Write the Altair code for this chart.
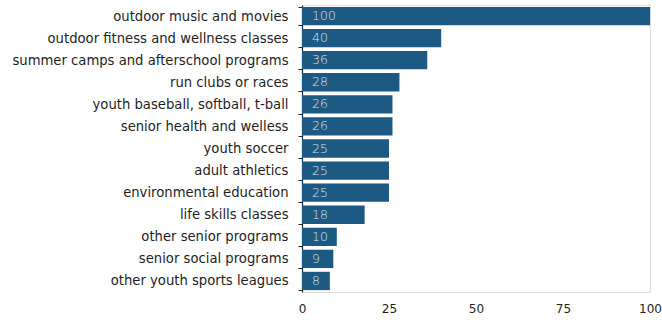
import altair as alt
import pandas as pd

categories = [
    "outdoor music and movies",
    "outdoor fitness and wellness classes",
    "summer camps and afterschool programs",
    "run clubs or races",
    "youth baseball, softball, t-ball",
    "senior health and welless",
    "youth soccer",
    "adult athletics",
    "environmental education",
    "life skills classes",
    "other senior programs",
    "senior social programs",
    "other youth sports leagues",
]
values = [100, 40, 36, 28, 26, 26, 25, 25, 25, 18, 10, 9, 8]
x_ticks = [0, 25, 50, 75, 100]

df = pd.DataFrame({"category": categories, "value": values})

FONT = "DejaVu Sans"
BAR = "#1c5a84"

y_enc = alt.Y(
    "category:N",
    sort=categories,
    title=None,
    scale=alt.Scale(paddingInner=0.17, paddingOuter=0.085),
    axis=alt.Axis(
        labelFont=FONT,
        labelFontSize=13.2,
        labelColor="#1e1e1e",
        labelPadding=10,
        labelLimit=320,
        tickBand="extent",
        tickSize=4,
        tickColor="#222222",
        domainColor="#222222",
        domainWidth=1.2,
    ),
)
x_enc = alt.X(
    "value:Q",
    title=None,
    scale=alt.Scale(domain=[0, 100], nice=False),
    axis=alt.Axis(
        values=x_ticks,
        grid=False,
        domain=False,
        ticks=False,
        labelFont=FONT,
        labelFontSize=12,
        labelColor="#1e1e1e",
        labelPadding=11,
        labelFlush=False,
    ),
)

bars = alt.Chart(df).mark_bar(color=BAR).encode(x=x_enc, y=y_enc)
labels = alt.Chart(df).mark_text(
    align="left", baseline="middle", dx=10, font=FONT, fontSize=12.5,
    fontWeight=300, color="#d6e2ec"
).encode(x=alt.datum(0), y=alt.Y("category:N", sort=categories), text="value:Q")

chart = (
    alt.layer(bars, labels)
    .properties(
        width=348,
        height=287,
        autosize=alt.AutoSizeParams(type="none"),
        padding={"left": 302, "top": 5, "right": 12, "bottom": 30},
    )
    .configure_view(stroke=None)
    .configure(background="white")
)

chart.save("out.html", embed_options={"renderer": "svg", "actions": False})
